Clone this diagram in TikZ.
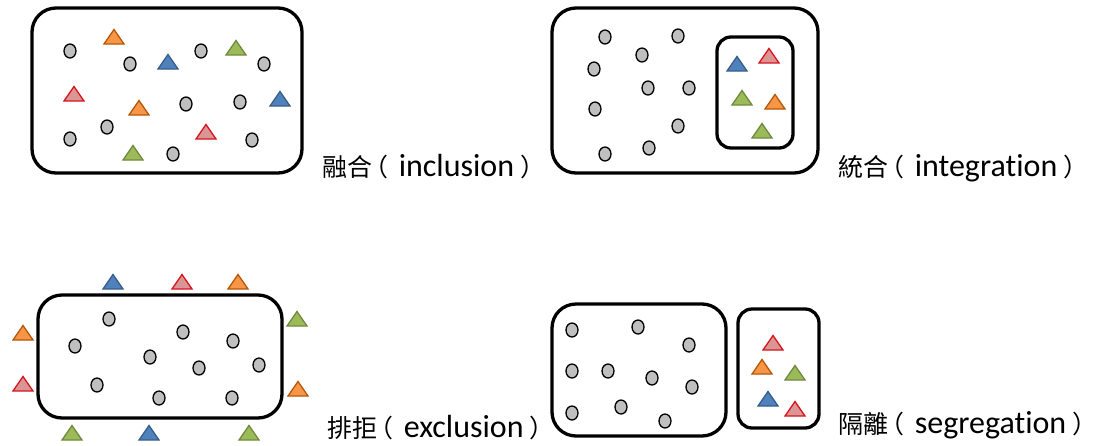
\documentclass[tikz,border=0pt]{standalone}
\usepackage{fontspec}
\setmainfont{Carlito}[Ligatures=NoCommon]
\newfontfamily\cjk[Scale=0.78]{Noto Sans CJK TC}
\newcommand\zhlabel[2]{{\cjk #1\kern-0.35em（\kern0.42em}#2{\cjk\kern0.25em）}}

\definecolor{dotgray}{RGB}{191,191,191}
\definecolor{redline}{RGB}{215,20,30}
\definecolor{redfill}{RGB}{217,150,148}
\definecolor{orangeline}{RGB}{182,87,8}
\definecolor{orangefill}{RGB}{247,150,70}
\definecolor{blueline}{RGB}{56,93,138}
\definecolor{bluefill}{RGB}{79,129,189}
\definecolor{greenline}{RGB}{113,137,63}
\definecolor{greenfill}{RGB}{155,187,89}

\begin{document}
\begin{tikzpicture}[x=1pt, y=-1pt,
    box/.style={line width=3.3pt, rounded corners=24pt},
    smallbox/.style={line width=3.3pt, rounded corners=14pt},
    dot/.style={draw, line width=1.3pt, fill=dotgray},
    tri/.pic={\path[pic actions, line width=1.3pt] (-10pt,-7pt) -- (10pt,-7pt) -- (0pt,7.5pt) -- cycle;},
    red tri/.style={draw=redline, fill=redfill},
    orange tri/.style={draw=orangeline, fill=orangefill},
    blue tri/.style={draw=blueline, fill=bluefill},
    green tri/.style={draw=greenline, fill=greenfill},
    lbl/.style={anchor=base west, inner sep=0pt, font=\fontsize{32}{36}\selectfont}]
    \useasboundingbox (0,0) rectangle (1100,445);

    % Inclusion
    \draw[box] (32,8) rectangle (302,173);
    \foreach \x/\y in {70/51, 130/64, 201/51, 264/64, 186/104, 240/102,
                       107/127, 70/139, 252/140, 173/154}
        \draw[dot] (\x,\y) ellipse [x radius=6pt, y radius=7pt];
    \foreach \c/\x/\y in {orange/114/37, blue/168/62, green/236/48, red/74/94,
                          orange/139/108, blue/280/99, red/206/132, green/133/153}
        \pic[\c\space tri] at (\x,\y) {tri};
    \node[lbl] (inclusion) at (322,176) {\zhlabel{融合}{inclusion}};

    % Integration
    \draw[box] (552,8) rectangle (818,173);
    \draw[smallbox] (717,37) rectangle (793,148);
    \foreach \x/\y in {605/37, 678/36, 642/55, 594/69, 648/88, 689/88,
                       595/109, 678/126, 649/148, 605/154}
        \draw[dot] (\x,\y) ellipse [x radius=6pt, y radius=7pt];
    \foreach \c/\x/\y in {blue/737/64, red/769/56, green/742/98,
                          orange/775/102, green/762/131}
        \pic[\c\space tri] at (\x,\y) {tri};
    \node[lbl] (integration) at (838,176) {\zhlabel{統合}{integration}};

    % Exclusion
    \draw[box] (38,295) rectangle (282,418);
    \foreach \x/\y in {109/319, 75/346, 183/332, 233/341, 150/357, 199/368,
                       259/365, 97/385, 159/398, 232/398}
        \draw[dot] (\x,\y) ellipse [x radius=6pt, y radius=7pt];
    \foreach \c/\x/\y in {blue/113/282, red/182/282, orange/238/282,
                          green/297/319, orange/298/389, orange/23/333,
                          red/23/384, green/72/433, blue/149/433, green/249/433}
        \pic[\c\space tri] at (\x,\y) {tri};
    \node[lbl] (exclusion) at (327,437) {\zhlabel{排拒}{exclusion}};

    % Segregation
    \draw[box] (552,304) rectangle (726,436);
    \draw[smallbox] (738,309) rectangle (819,428);
    \foreach \x/\y in {572/330, 638/327, 689/345, 572/371, 608/371, 652/378,
                       692/387, 572/413, 621/407, 665/421}
        \draw[dot] (\x,\y) ellipse [x radius=6pt, y radius=7pt];
    \foreach \c/\x/\y in {red/773/343, orange/762/367, green/795/373,
                          blue/768/399, red/795/409}
        \pic[\c\space tri] at (\x,\y) {tri};
    \node[lbl] (segregation) at (838,433) {\zhlabel{隔離}{segregation}};
\end{tikzpicture}
\end{document}
